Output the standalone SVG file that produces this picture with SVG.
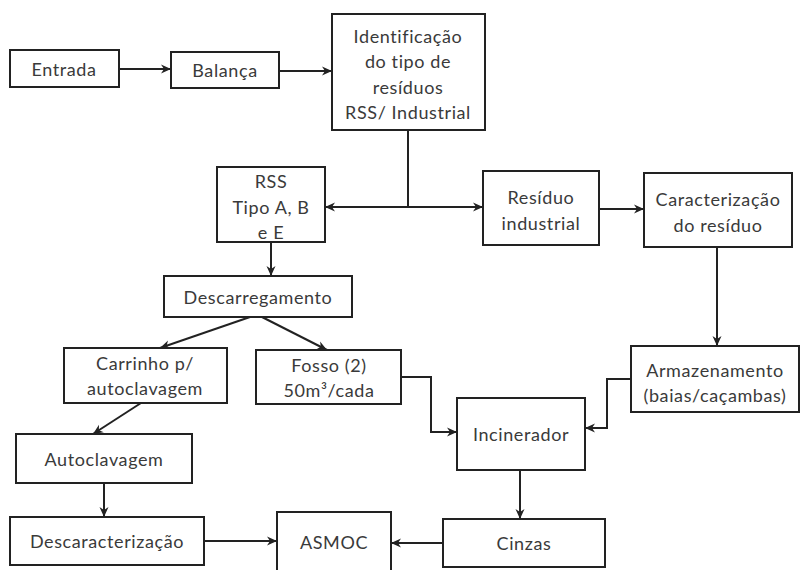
<svg xmlns="http://www.w3.org/2000/svg" width="801" height="570" viewBox="0 0 801 570">
<defs>
<marker id="arr" markerUnits="userSpaceOnUse" markerWidth="12" markerHeight="10" refX="10" refY="5" orient="auto">
<path d="M0,0.5 L10,5 L0,9.5 L3,5 z" fill="#222"/>
</marker>
<style>
rect{fill:#fff;stroke:#222;stroke-width:2}
text{font-family:Lato,"Open Sans","Liberation Sans",sans-serif;font-size:18px;letter-spacing:0.6px;fill:#3a3a3a;text-anchor:middle;dominant-baseline:central}
#connectors path{fill:none;stroke:#222;stroke-width:2;marker-end:url(#arr)}
#connectors path.plain{marker-end:none}
</style>
</defs>
<rect x="0" y="0" width="801" height="570" style="stroke:none;fill:#fff"/>
<g id="connectors">
<path d="M119,69 L171,69"/>
<path d="M279,71 L332,71"/>
<path class="plain" d="M408,130 L408,207"/>
<path d="M408,207 L325,207"/>
<path d="M408,207 L483,207"/>
<path d="M599,209 L644,209"/>
<path d="M717,247 L717,346"/>
<path d="M271,242 L271,276"/>
<path d="M250,317 L160,348"/>
<path d="M262,317 L327,350"/>
<path d="M141,403 L93,434"/>
<path d="M104,483 L104,517"/>
<path d="M204,541 L277,541"/>
<path d="M401,377 L431,377 L431,432 L457,432"/>
<path d="M631,379 L607,379 L607,428 L585,428"/>
<path d="M520,470 L520,519"/>
<path d="M443,543 L391,543"/>
</g>
<g id="entrada"><rect x="10" y="50" width="109" height="37"/><text x="64" y="69">Entrada</text></g>
<g id="balanca"><rect x="171" y="52" width="108" height="36"/><text x="225" y="70">Balança</text></g>
<g id="identificacao"><rect x="332" y="14" width="153" height="116"/>
<text x="408" y="36">Identificação</text><text x="408" y="61">do tipo de</text><text x="408" y="87">resíduos</text><text x="408" y="112">RSS/ Industrial</text></g>
<g id="rss"><rect x="217" y="167" width="108" height="75"/>
<text x="271" y="181">RSS</text><text x="271" y="207">Tipo A, B</text><text x="271" y="232">e E</text></g>
<g id="residuo"><rect x="483" y="171" width="116" height="74"/>
<text x="541" y="197">Resíduo</text><text x="541" y="223">industrial</text></g>
<g id="caracterizacao"><rect x="644" y="173" width="148" height="74"/>
<text x="718" y="199">Caracterização</text><text x="718" y="225">do resíduo</text></g>
<g id="descarregamento"><rect x="164" y="276" width="188" height="41"/><text x="258" y="297">Descarregamento</text></g>
<g id="carrinho"><rect x="64" y="348" width="163" height="55"/>
<text x="145" y="363">Carrinho p/</text><text x="145" y="388">autoclavagem</text></g>
<g id="fosso"><rect x="256" y="350" width="145" height="54"/>
<text x="329" y="365">Fosso (2)</text><text x="329" y="390">50m³/cada</text></g>
<g id="armazenamento"><rect x="631" y="346" width="168" height="66"/>
<text x="715" y="370">Armazenamento</text><text x="715" y="395">(baias/caçambas)</text></g>
<g id="incinerador"><rect x="457" y="398" width="128" height="72"/><text x="521" y="434">Incinerador</text></g>
<g id="autoclavagem"><rect x="16" y="434" width="176" height="49"/><text x="104" y="459">Autoclavagem</text></g>
<g id="descaracterizacao"><rect x="10" y="517" width="194" height="48"/><text x="107" y="541">Descaracterização</text></g>
<g id="asmoc"><rect x="277" y="512" width="114" height="64"/><text x="334" y="542">ASMOC</text></g>
<g id="cinzas"><rect x="443" y="519" width="162" height="48"/><text x="524" y="543">Cinzas</text></g>
</svg>
